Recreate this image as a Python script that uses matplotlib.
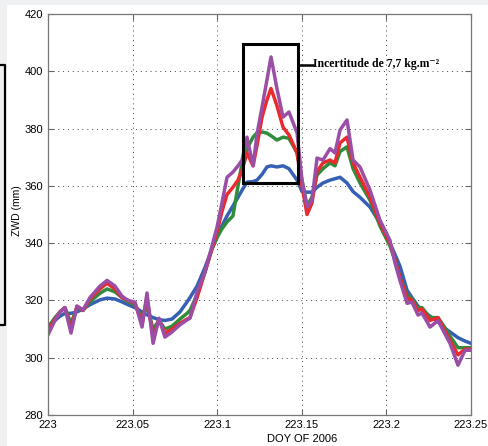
import matplotlib.pyplot as plt
from matplotlib.patches import Rectangle
from matplotlib.lines import Line2D

# time axis (day of year 2006)
doy = [223.0000, 223.0041, 223.0071, 223.0100, 223.0136, 223.0171, 223.0207, 223.0248,
       223.0307, 223.0349, 223.0396, 223.0437, 223.0473, 223.0514, 223.0556, 223.0585,
       223.0621, 223.0656, 223.0691, 223.0733, 223.0780, 223.0822, 223.0839, 223.0881,
       223.0928, 223.0969, 223.0999, 223.1028, 223.1058, 223.1093, 223.1123, 223.1147,
       223.1176, 223.1212, 223.1235, 223.1265, 223.1294, 223.1318, 223.1353, 223.1389,
       223.1424, 223.1472, 223.1501, 223.1531, 223.1560, 223.1590, 223.1625, 223.1667,
       223.1696, 223.1726, 223.1767, 223.1803, 223.1844, 223.1903, 223.1962, 223.2021,
       223.2051, 223.2080, 223.2122, 223.2151, 223.2187, 223.2210, 223.2258, 223.2305,
       223.2340, 223.2376, 223.2423, 223.2465, 223.2500]

# ZWD series (mm)
zwd_blue = [311, 313, 314.5, 315.5, 315.5, 316, 317, 318.5, 320.2, 320.8, 320.5, 319.5,
            318.5, 317.5, 316, 315, 314, 313.3, 313, 313.5, 316, 319.5, 321, 325,
            331.5, 338, 342, 346, 349.5, 353, 356, 358.5, 361.3, 361.5, 362, 364,
            366.6, 367, 366.6, 367, 366, 362, 358, 357.8, 357.8, 359.5, 361, 362,
            362.5, 363, 361, 358, 356, 352.6, 347, 340, 336, 332, 323.6, 321,
            318, 316.5, 314.5, 312.5, 310.5, 309, 307, 305.8, 305]
zwd_green = [310.5, 314, 316, 317.5, 312, 317.5, 316.5, 319.5, 322.5, 324, 323, 321,
             319.5, 318.5, 314, 318, 310, 313, 310, 311, 313.5, 315.5, 316.5, 322,
             330, 338, 342, 345, 347.4, 349.5, 360, 368, 373, 377, 378.5, 378.8,
             378.4, 377.5, 376, 377, 376.6, 371.5, 362, 353, 356, 363.8, 366, 368,
             367, 372, 373.6, 366, 361, 355, 346, 339, 334, 328, 322, 320.5,
             317.5, 317.5, 314, 314, 311, 307.5, 303.5, 303.5, 303.5]
zwd_red = [309.5, 313.5, 316, 317.5, 310, 318, 316.5, 320.5, 324, 326, 324, 321,
           320, 319, 312, 321, 307, 313.5, 308.5, 310, 312, 313.5, 314, 321,
           330, 338, 344, 351, 357, 359.5, 362, 365.5, 371.5, 367, 374, 384,
           390, 394, 388, 380.5, 377.8, 371.5, 360, 350, 354, 365, 368, 369,
           368, 375, 377, 368, 363, 356, 347, 340, 334, 328, 321, 320,
           316.5, 317, 313, 314, 310, 306, 301, 303, 303]
zwd_purple = [308, 313, 316, 317.5, 308.6, 318, 316.7, 321, 325, 327, 325, 321.5,
              320, 319.4, 310.7, 322.6, 305, 313.8, 307.2, 309, 311.5, 313.2, 313.8, 323,
              330, 339, 345.6, 354, 363, 364.8, 367, 369, 377, 367, 378, 387.5,
              397, 405, 394, 384, 385.8, 378.5, 362, 352.6, 355, 369.7, 369, 373,
              371.5, 379.5, 383, 369, 366.6, 358.5, 348, 341, 333, 327, 319, 319.4,
              314.9, 315.6, 310.7, 313, 309, 305, 297.4, 302.6, 302.6]

xticks = [223, 223.05, 223.1, 223.15, 223.2, 223.25]
xtick_labels = ['223', '223.05', '223.1', '223.15', '223.2', '223.25']
yticks = [280, 300, 320, 340, 360, 380, 400, 420]

plt.rcParams['font.family'] = ['Liberation Sans', 'DejaVu Sans']

fig = plt.figure(figsize=(4.88, 4.46), dpi=100)
fig.patch.set_facecolor('white')
# light grey page margins at top and left
fig.patches.append(Rectangle((0, 1 - 5 / 446), 1, 5 / 446, transform=fig.transFigure,
                             facecolor='#eff0f2', edgecolor='none', zorder=0))
fig.patches.append(Rectangle((0, 0), 7 / 488, 1 - 5 / 446, transform=fig.transFigure,
                             facecolor='#eff0f2', edgecolor='none', zorder=0))
# edge of a cropped box on the left
fig.lines.append(Line2D([0, 5 / 488, 5 / 488, 0], [1 - 65 / 446, 1 - 65 / 446, 1 - 325 / 446, 1 - 325 / 446],
                        transform=fig.transFigure, color='black', lw=1.6))

ax = fig.add_axes([48 / 488, 31 / 446, 423 / 488, 401 / 446])

ax.plot(doy, zwd_blue, color='#3660b4', lw=2.5)
ax.plot(doy, zwd_green, color='#2e8c3c', lw=2.5)
ax.plot(doy, zwd_red, color='#ea2a2c', lw=2.5)
ax.plot(doy, zwd_purple, color='#9b4ea6', lw=2.5)

ax.set_xlim(223, 223.25)
ax.set_ylim(280, 420)
ax.set_xticks(xticks)
ax.set_xticklabels(xtick_labels)
ax.set_yticks(yticks)
ax.grid(True, linestyle=(0, (1, 4)), color='#444444', lw=0.7)
ax.tick_params(direction='in', top=True, right=True, labelsize=8, length=4, color='#666666')
for s in ax.spines.values():
    s.set_color('#777777')
    s.set_linewidth(0.9)

ax.set_xlabel('DOY OF 2006', fontsize=8)
ax.xaxis.set_label_coords(0.60, -0.048)
ax.set_ylabel('ZWD (mm)', fontsize=7.5)
ax.yaxis.set_label_coords(-0.062, 0.51)

# uncertainty box
ax.add_patch(Rectangle((223.1152, 361), 223.1478 - 223.1152, 409.5 - 361,
                       fill=False, edgecolor='black', lw=2.2, zorder=5))
ax.plot([223.1478, 223.1565], [402.2, 402.2], color='black', lw=1.8, zorder=5)
ax.text(223.1565, 402.4, 'Incertitude de 7,7 kg.m⁻²', family=['Liberation Serif', 'DejaVu Serif'],
        fontweight='bold', fontsize=8.5, va='center', ha='left')

fig.savefig('out.png', dpi=100)
